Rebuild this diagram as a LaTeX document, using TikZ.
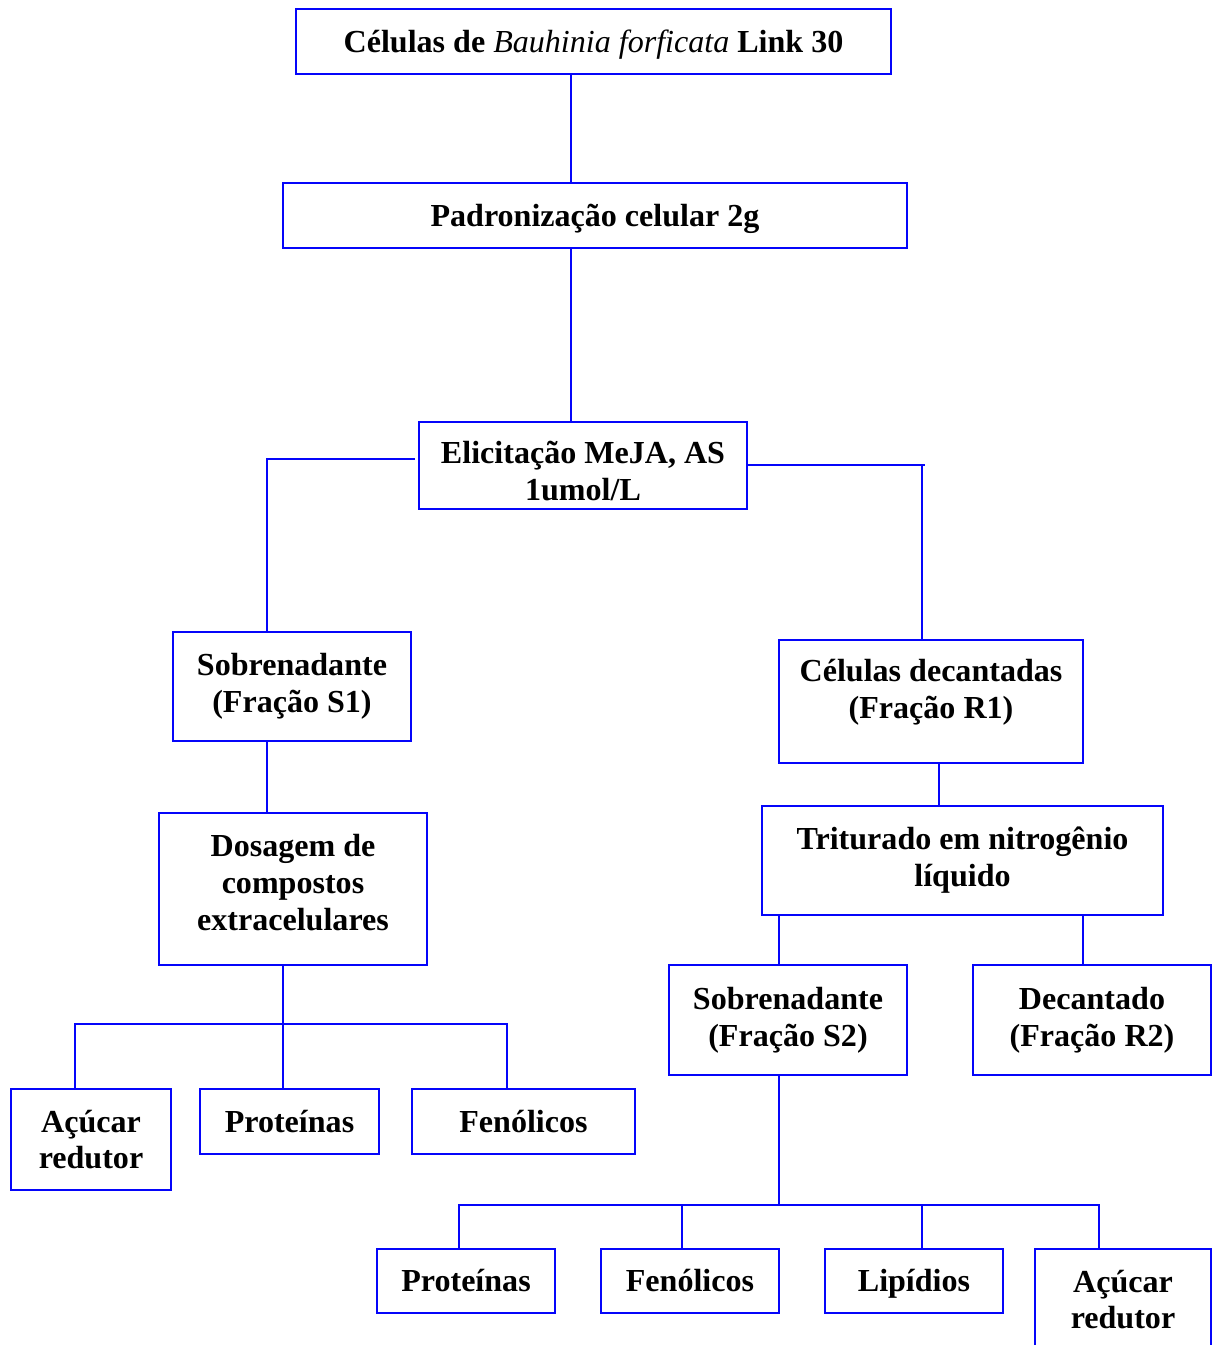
\documentclass[tikz,border=0pt]{standalone}
\usepackage{fontspec}
\setmainfont{Liberation Serif}

\definecolor{flowblue}{RGB}{5,5,250}

\begin{document}
\begin{tikzpicture}[
  x=0.02cm, y=-0.02cm,
  box/.style={
    draw=flowblue, line width=1.3pt, inner sep=0pt, align=center,
    font=\fontsize{18.25}{21}\selectfont\bfseries
  },
  one/.style={
    text height=16pt, text depth=4pt
  },
  leaf/.style={
    box, one, minimum width=3.56cm, minimum height=1.28cm
  },
  link/.style={
    draw=flowblue, line width=1.3pt
  }
]
\useasboundingbox (0,0) rectangle (1213,1345);

% main column
\node[box, one, minimum width=11.9cm, minimum height=1.3cm] (cel) at (593.5,41.5)
  {Células de {\mdseries\itshape Bauhinia forficata} Link 30};
\node[box, one, minimum width=12.48cm, minimum height=1.3cm] (pad) at (595,215.5)
  {Padronização celular 2g};
\node[box, text height=40pt, minimum width=6.56cm, minimum height=1.74cm] (eli) at (583,465.5)
  {Elicitação MeJA, AS\\1umol/L};

% left branch
\node[box, minimum width=4.76cm, minimum height=2.18cm] (s1) at (292,686.5)
  {Sobrenadante\\(Fração S1)};
\node[box, text depth=8pt, minimum width=5.36cm, minimum height=3.04cm] (dos) at (293,889)
  {Dosagem de\\compostos\\extracelulares};
\node[box, minimum width=3.2cm, minimum height=2.02cm] (acu1) at (91,1139.5)
  {Açúcar\\redutor};
\node[box, one, minimum width=3.58cm, minimum height=1.3cm] (pro1) at (289.5,1121.5)
  {Proteínas};
\node[box, one, minimum width=4.46cm, minimum height=1.3cm] (fen1) at (523.5,1121.5)
  {Fenólicos};

% right branch
\node[box, text depth=14pt, minimum width=6.08cm, minimum height=2.46cm] (r1) at (931,701.5)
  {Células decantadas\\(Fração R1)};
\node[box, minimum width=8.02cm, minimum height=2.18cm] (tri) at (962.5,860.5)
  {Triturado em nitrogênio\\líquido};
\node[box, minimum width=4.76cm, minimum height=2.2cm] (s2) at (788,1020)
  {Sobrenadante\\(Fração S2)};
\node[box, minimum width=4.76cm, minimum height=2.2cm] (r2) at (1092,1020)
  {Decantado\\(Fração R2)};
\node[leaf] (pro2) at (466,1281) {Proteínas};
\node[leaf] (fen2) at (690,1281) {Fenólicos};
\node[leaf] (lip) at (914,1281) {Lipídios};
\node[box, minimum width=3.52cm, minimum height=2.02cm] (acu2) at (1123,1299.5)
  {Açúcar\\redutor};

% connectors
\coordinate (trunk) at (571,0);
\draw[link] (cel.south -| trunk) -- (pad.north -| trunk);
\draw[link] (pad.south -| trunk) -- (eli.north -| trunk);

\coordinate (lft) at (267,459);
\coordinate (rgt) at (922,465);
\draw[link] ([xshift=-0.06cm]eli.west |- lft) -| (s1.north -| lft);
\draw[link] (eli.east |- rgt) -- ([xshift=0.06cm]rgt);
\draw[link] (rgt) -- (r1.north -| rgt);
\draw[link] (s1.south -| lft) -- (dos.north -| lft);

\coordinate (bus1) at (283,1024);
\draw[link] (dos.south -| bus1) -- (pro1.north -| bus1);
\draw[link] ([xshift=-0.32cm]acu1.north) |- (bus1) -| ([xshift=-0.33cm]fen1.north);

\coordinate (r1drop) at (939,0);
\coordinate (s2drop) at (779,0);
\coordinate (r2drop) at (1083,0);
\draw[link] (r1.south -| r1drop) -- (tri.north -| r1drop);
\draw[link] (tri.south -| s2drop) -- (s2.north -| s2drop);
\draw[link] (tri.south -| r2drop) -- (r2.north -| r2drop);

\coordinate (bus2) at (779,1205);
\draw[link] (s2.south -| bus2) -- (bus2);
\draw[link] ([xshift=-0.14cm]pro2.north) |- (bus2) -| ([xshift=-0.48cm]acu2.north);
\draw[link] ([xshift=-0.16cm]fen2.north) -- ([xshift=-0.16cm]fen2.north |- bus2);
\draw[link] ([xshift=0.16cm]lip.north) -- ([xshift=0.16cm]lip.north |- bus2);

\end{tikzpicture}
\end{document}
